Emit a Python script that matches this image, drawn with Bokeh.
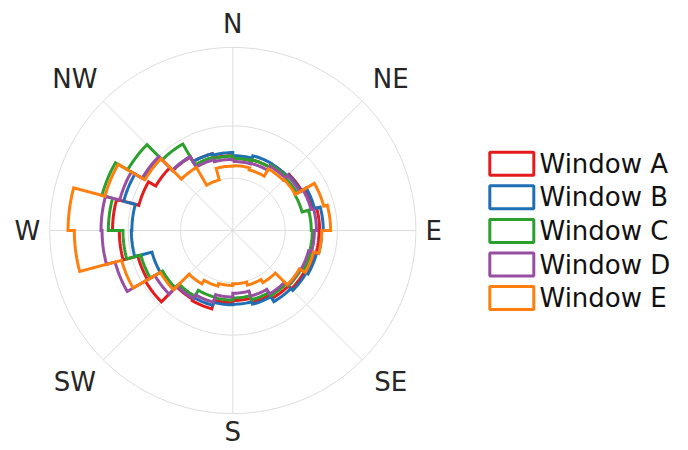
import numpy as np
from bokeh.plotting import figure
from bokeh.models import Range1d
from bokeh.core.properties import value
from bokeh.embed import file_html
from bokeh.resources import INLINE

# 24 direction sectors of 15 degrees, clockwise from north
sector_width = 15
n_sectors = 24

window_names = ["Window A", "Window B", "Window C", "Window D", "Window E"]
window_colors = ["#e41a1c", "#1f6fb5", "#2ca02c", "#984ea3", "#ff7f0e"]

window_a = [1.38, 1.40, 1.47, 1.52, 1.60, 1.66, 1.65, 1.62, 1.58, 1.50, 1.42, 1.34,
            1.38, 1.55, 1.52, 1.93, 1.88, 2.17, 2.30, 1.86, 1.70, 1.62, 1.52, 1.43]
window_b = [1.43, 1.48, 1.47, 1.50, 1.62, 1.73, 1.70, 1.66, 1.62, 1.57, 1.46, 1.41,
            1.42, 1.48, 1.50, 1.58, 1.60, 1.94, 1.93, 2.16, 1.98, 1.63, 1.52, 1.49]
window_c = [1.38, 1.40, 1.45, 1.42, 1.37, 1.50, 1.52, 1.55, 1.50, 1.44, 1.37, 1.29,
            1.33, 1.32, 1.45, 1.55, 1.82, 2.10, 2.38, 2.59, 2.32, 1.91, 1.45, 1.42]
window_d = [1.32, 1.33, 1.42, 1.48, 1.55, 1.60, 1.56, 1.50, 1.48, 1.40, 1.30, 1.20,
            1.27, 1.42, 1.50, 1.72, 2.33, 2.50, 2.52, 2.24, 2.00, 1.63, 1.40, 1.36]
window_e = [1.24, 1.20, 1.36, 1.38, 1.80, 1.87, 1.70, 1.60, 1.47, 1.15, 1.08, 1.02,
            1.05, 1.10, 1.18, 1.60, 2.20, 3.03, 3.15, 2.53, 1.94, 1.39, 1.00, 1.23]
windows = [window_a, window_b, window_c, window_d, window_e]

directions = ["N", "NE", "E", "SE", "S", "SW", "W", "NW"]
direction_angles = [0, 45, 90, 135, 180, 225, 270, 315]

radial_grid = [1, 2]
r_max = 3.5

# pixel geometry: 52.3 px per radial unit, pole at (232.3, 230) from top-left
W, H = 688, 450
scale = 52.3
cx, cy = 232.3, 230.0

p = figure(width=W, height=H, output_backend="svg", toolbar_location=None,
           x_range=Range1d(-cx / scale, (W - cx) / scale),
           y_range=Range1d(-(H - cy) / scale, cy / scale),
           min_border=0, background_fill_color="white", border_fill_color="white")
p.axis.visible = False
p.grid.visible = False
p.outline_line_color = None


def polar_xy(r, theta_deg):
    t = np.radians(theta_deg)
    return r * np.sin(t), r * np.cos(t)


grid_color = "#dcdcdc"
# circular grid and outer boundary
for rg in radial_grid + [r_max]:
    th = np.linspace(0, 360, 361)
    gx, gy = polar_xy(rg, th)
    p.line(gx, gy, line_color=grid_color, line_width=1)

# spokes every 45 degrees
sx, sy = polar_xy(r_max, np.array(direction_angles, dtype=float))
p.segment(x0=[0] * len(sx), y0=[0] * len(sy), x1=sx, y1=sy,
          line_color=grid_color, line_width=1)

# stepped outline for each window
for vals, color in zip(windows, window_colors):
    xs, ys = [], []
    for i, r in enumerate(vals):
        th = np.linspace(i * sector_width, (i + 1) * sector_width, 10)
        x, y = polar_xy(r, th)
        xs.extend(x)
        ys.extend(y)
    xs.append(xs[0])
    ys.append(ys[0])
    p.line(xs, ys, line_color=color, line_width=3, line_join="miter")

# compass labels just outside the boundary circle
lx, ly = [], []
for a in direction_angles:
    if a % 90 == 0:
        rx = 3.84 if a == 90 else 3.93
        ry = 3.86 if a == 180 else 3.95
    else:
        rx, ry = 4.27, 4.1
    t = np.radians(a)
    lx.append(rx * np.sin(t))
    ly.append(ry * np.cos(t))
p.text(x=lx, y=ly, text=directions, text_font=value("DejaVu Sans"),
       text_font_size="26px", text_color="#262626",
       text_align="center", text_baseline="middle")

# legend: outlined boxes with names
leg_px_x = 511.3
leg_px_y0 = 163.2
leg_step = 33.6
for k, (name, color) in enumerate(zip(window_names, window_colors)):
    py = leg_px_y0 + k * leg_step
    bx = (leg_px_x - cx) / scale
    by = (cy - py) / scale
    p.rect(x=[bx], y=[by], width=44 / scale, height=23 / scale,
           fill_color=None, line_color=color, line_width=3)
    p.text(x=[(539 - cx) / scale], y=[by], text=[name],
           text_font=value("DejaVu Sans"), text_font_size="26px",
           text_color="#111111", text_align="left", text_baseline="middle")

open("out.html", "w").write(file_html(p, INLINE))
